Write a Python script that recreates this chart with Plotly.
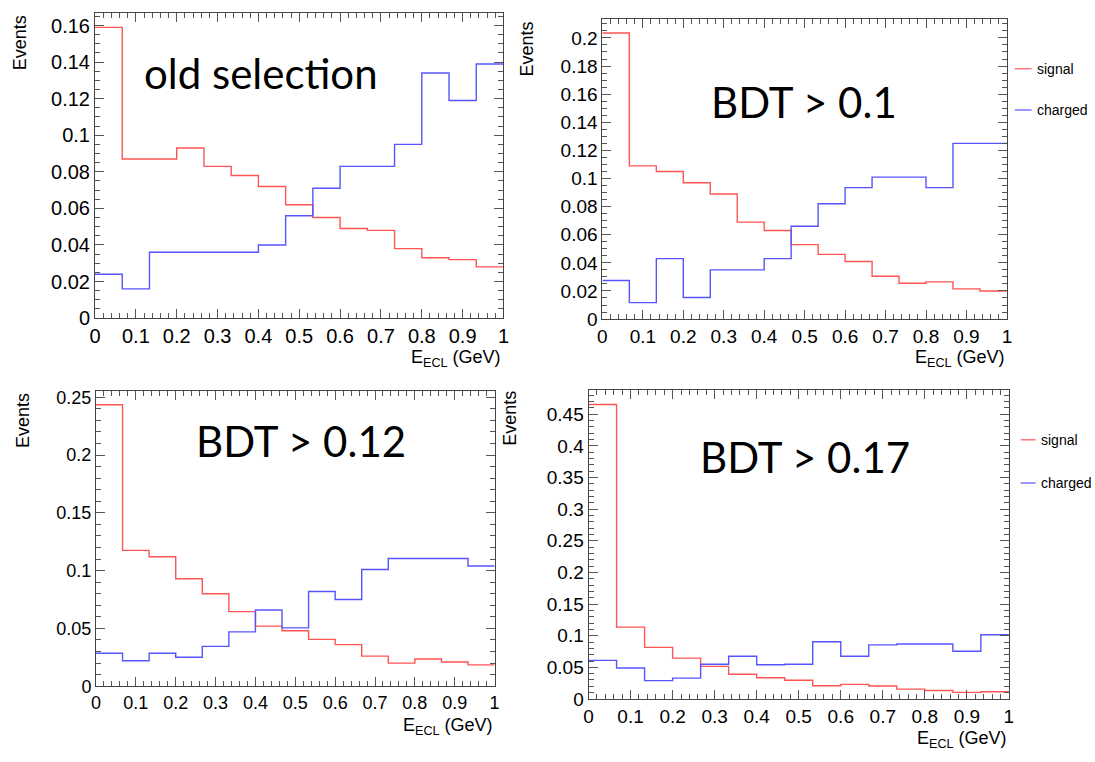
import numpy as np
import plotly.graph_objects as go

W, H = 1095, 762

# ---------------- data (15 bins, 0..1 GeV) ----------------
bin_edges = list(np.linspace(0, 1, 16))

sig_old = [0.159, 0.087, 0.087, 0.093, 0.083, 0.078, 0.072, 0.062, 0.055, 0.049, 0.048, 0.038, 0.033, 0.032, 0.028]
chg_old = [0.024, 0.016, 0.036, 0.036, 0.036, 0.036, 0.040, 0.056, 0.071, 0.083, 0.083, 0.095, 0.134, 0.119, 0.139]

sig_b010 = [0.2035, 0.109, 0.105, 0.097, 0.089, 0.069, 0.063, 0.053, 0.046, 0.041, 0.0305, 0.0255, 0.0265, 0.0215, 0.020]
chg_b010 = [0.0275, 0.0117, 0.043, 0.0154, 0.035, 0.035, 0.043, 0.066, 0.082, 0.0935, 0.101, 0.101, 0.0935, 0.125, 0.125]

sig_b012 = [0.2435, 0.1175, 0.112, 0.093, 0.080, 0.0645, 0.052, 0.048, 0.0405, 0.036, 0.026, 0.020, 0.0235, 0.021, 0.0185]
chg_b012 = [0.0285, 0.022, 0.0285, 0.025, 0.0345, 0.047, 0.066, 0.0505, 0.082, 0.075, 0.101, 0.1105, 0.1105, 0.1105, 0.104]

sig_b017 = [0.4655, 0.1135, 0.0815, 0.0645, 0.0515, 0.039, 0.0335, 0.0295, 0.021, 0.023, 0.0205, 0.0155, 0.0135, 0.0105, 0.0115]
chg_b017 = [0.061, 0.049, 0.029, 0.033, 0.055, 0.0675, 0.054, 0.055, 0.0905, 0.0675, 0.0855, 0.087, 0.087, 0.0755, 0.1015]

panel_titles = ["old selection", "BDT > 0.1", "BDT > 0.12", "BDT > 0.17"]
x_tickvals = [0, 0.1, 0.2, 0.3, 0.4, 0.5, 0.6, 0.7, 0.8, 0.9, 1.0]
x_ticktext = ["0", "0.1", "0.2", "0.3", "0.4", "0.5", "0.6", "0.7", "0.8", "0.9", "1"]
y_ticks_a = [0, 0.02, 0.04, 0.06, 0.08, 0.1, 0.12, 0.14, 0.16, 0.18, 0.2]
y_text_a = ["0", "0.02", "0.04", "0.06", "0.08", "0.1", "0.12", "0.14", "0.16", "0.18", "0.2"]
y_ticks_b = [0, 0.05, 0.1, 0.15, 0.2, 0.25, 0.3, 0.35, 0.4, 0.45]
y_text_b = ["0", "0.05", "0.1", "0.15", "0.2", "0.25", "0.3", "0.35", "0.4", "0.45"]
legend_labels = ["signal", "charged"]

RED = "rgb(255,85,85)"
BLUE = "rgb(85,85,255)"

def px(x):
    return x / W

def py(y):
    return 1 - y / H

# panel pixel boxes: (left, right, top, bottom)
boxes = [(90, 503, 10, 321), (603, 1012, 16, 322), (91, 494, 395, 696), (589, 1014, 394, 709)]
series = [(sig_old, chg_old), (sig_b010, chg_b010), (sig_b012, chg_b012), (sig_b017, chg_b017)]
yt = [(y_ticks_a, y_text_a, 0.005), (y_ticks_a, y_text_a, 0.005), (y_ticks_b, y_text_b, 0.01), (y_ticks_b, y_text_b, 0.01)]
tick_fs = [20, 19, 18, 19]

fig = go.Figure()
FONT = "Liberation Sans, Arial, sans-serif"

for i, ((l, r, t, b), (sig, chg), (ytv, yttx, ymin), fs) in enumerate(zip(boxes, series, yt, tick_fs)):
    n = "" if i == 0 else str(i + 1)
    for vals, col in ((sig, RED), (chg, BLUE)):
        fig.add_trace(go.Scatter(
            x=bin_edges, y=list(vals) + [vals[-1]], mode="lines",
            line=dict(color=col, width=1.4, shape="hv"),
            xaxis="x" + n, yaxis="y" + n, showlegend=False, hoverinfo="skip"))
    ymax = max(max(sig), max(chg)) * 1.05
    fig.layout["xaxis" + n] = dict(
        domain=[px(l), px(r)], anchor="y" + n, range=[0, 1],
        tickvals=x_tickvals, ticktext=x_ticktext,
        ticks="inside", ticklen=9, tickwidth=1, tickcolor="#555",
        minor=dict(ticks="inside", ticklen=5, dtick=0.02, tick0=0, tickcolor="#555", tickwidth=1, showgrid=False),
        showline=True, linecolor="#444", linewidth=1, mirror="allticks",
        showgrid=False, zeroline=False, tickfont=dict(family=FONT, size=fs, color="black"),
    )
    fig.layout["yaxis" + n] = dict(
        domain=[py(b), py(t)], anchor="x" + n, range=[0, ymax],
        tickvals=ytv, ticktext=yttx,
        ticks="inside", ticklen=9, tickwidth=1, tickcolor="#555",
        minor=dict(ticks="inside", ticklen=5, dtick=ymin, tick0=0, tickcolor="#555", tickwidth=1, showgrid=False),
        showline=True, linecolor="#444", linewidth=1, mirror="allticks",
        showgrid=False, zeroline=False, tickfont=dict(family=FONT, size=fs, color="black"),
    )

annotations = []
# panel titles
title_pos = [(258, 71), (807, 101), (298, 446), (808, 463)]
for (cx, cy), txt in zip(title_pos, panel_titles):
    annotations.append(dict(x=px(cx), y=py(cy), xref="paper", yref="paper", text=txt,
                            showarrow=False, xanchor="center", yanchor="middle",
                            font=dict(family="Lato, sans-serif", size=42, color="black")))
# Events labels
ev_pos = [(14, 10), (527, 17), (17, 395), (510, 393)]
for (cx, ty) in ev_pos:
    annotations.append(dict(x=px(cx), y=py(ty), xref="paper", yref="paper", text="Events",
                            textangle=-90, showarrow=False, xanchor="center", yanchor="top",
                            font=dict(family=FONT, size=18, color="black")))
# x titles
xt_pos = [(503, 362), (1012, 362), (494, 737), (1014, 750)]
for (rx, cy) in xt_pos:
    annotations.append(dict(x=px(rx), y=py(cy), xref="paper", yref="paper",
                            text="E<sub>ECL</sub> (GeV)", showarrow=False,
                            xanchor="right", yanchor="middle",
                            font=dict(family=FONT, size=18, color="black")))

shapes = []
# legends for panels 2 and 4
leg_pos = [((1020, 1037, 1040), (67, 109)), ((1026, 1041, 1044), (445, 489))]
for (x0, x1, xt), ys in leg_pos:
    for lab, col, yy in zip(legend_labels, (RED, BLUE), ys):
        shapes.append(dict(type="line", xref="paper", yref="paper", x0=px(x0), x1=px(x1),
                           y0=py(yy), y1=py(yy), line=dict(color=col, width=1.2)))
        annotations.append(dict(x=px(xt), y=py(yy), xref="paper", yref="paper", text=lab,
                                showarrow=False, xanchor="left", yanchor="middle",
                                font=dict(family=FONT, size=14, color="black")))

fig.update_layout(width=W, height=H, margin=dict(l=0, r=0, t=0, b=0),
                  paper_bgcolor="white", plot_bgcolor="white",
                  annotations=annotations, shapes=shapes, showlegend=False)

fig.write_html("out.html")
